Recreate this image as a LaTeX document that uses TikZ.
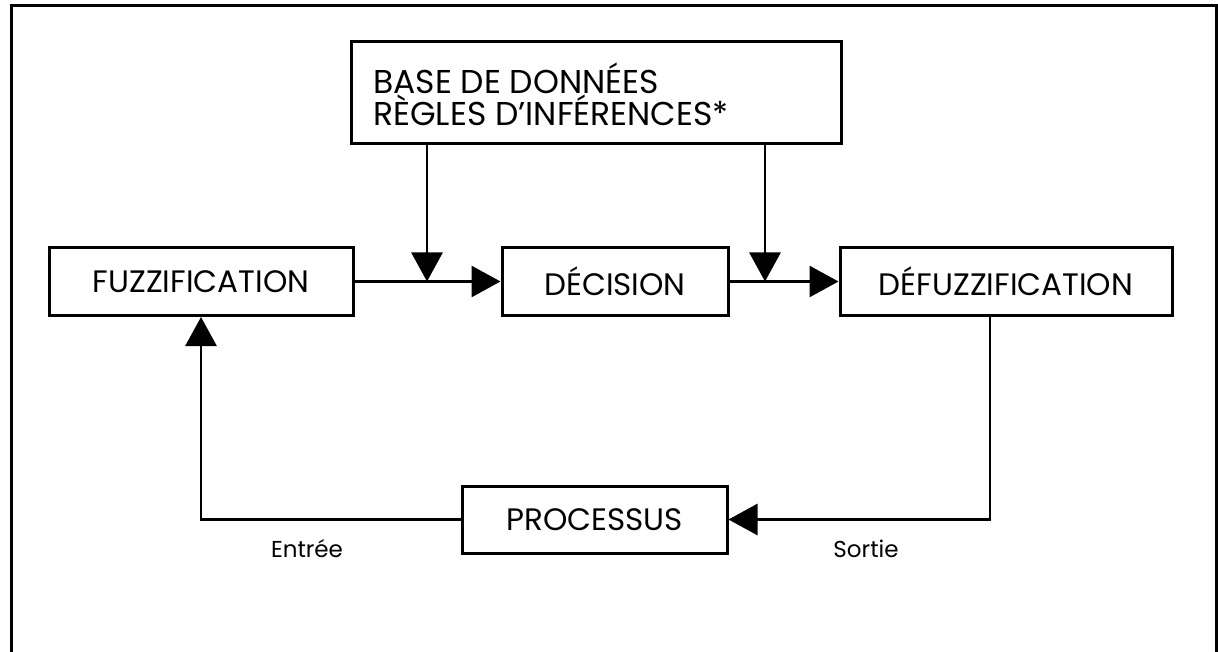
\documentclass[tikz,border=0pt]{standalone}
\usepackage{fontspec}
\setmainfont{Poppins}
\usetikzlibrary{arrows.meta}
\begin{document}
\begin{tikzpicture}[x=1pt,y=-1pt,
  box/.style={draw,line width=3pt,rectangle,inner sep=0pt,font=\fontsize{31}{31}\selectfont},
  conn/.style={line width=2.8pt},
  arr/.style={conn,-{Triangle[length=29pt,width=31pt]}},
  lbl/.style={font=\fontsize{23}{24}\selectfont,inner sep=0pt}]
\useasboundingbox (0,0) rectangle (1218,652);
\fill[white] (0,0) rectangle (1218,652);
\draw[line width=3pt] (11,660) -- (11,6) -- (1216,6) -- (1216,660);
\node[box,minimum width=490pt,minimum height=102pt] (base) at (596,93) {};
\node[font=\fontsize{33}{29}\selectfont,anchor=west,align=left,inner sep=0pt] (basetxt) at (373,94) {BASE DE DONNÉES\\RÈGLES D’INFÉRENCES*};
\node[box,minimum width=304pt,minimum height=68pt] (fuzz) at (201,281.5) {FUZZIFICATION};
\node[box,minimum width=226pt,minimum height=68pt] (dec) at (615,281.5) {DÉCISION};
\node[box,minimum width=332pt,minimum height=68pt] (defuzz) at (1006,281.5) {DÉFUZZIFICATION};
\node[box,minimum width=265pt,minimum height=67pt] (proc) at (594.5,519.5) {PROCESSUS};
\coordinate (j1) at (427,281.5);
\coordinate (j2) at (765,281.5);
\coordinate (c1) at (990,519.5);
\draw[arr] (fuzz.east) -- (dec.west);
\draw[arr] (dec.east) -- (defuzz.west);
\draw[arr] (base.south -| j1) -- (j1);
\draw[arr] (base.south -| j2) -- (j2);
\draw[arr] (c1 |- defuzz.south) -- (c1) -- (proc.east);
\draw[arr] (proc.west) -| (fuzz.south);
\node[lbl] (entree) at (307,549) {Entrée};
\node[lbl] (sortie) at (866,549) {Sortie};
\end{tikzpicture}
\end{document}
